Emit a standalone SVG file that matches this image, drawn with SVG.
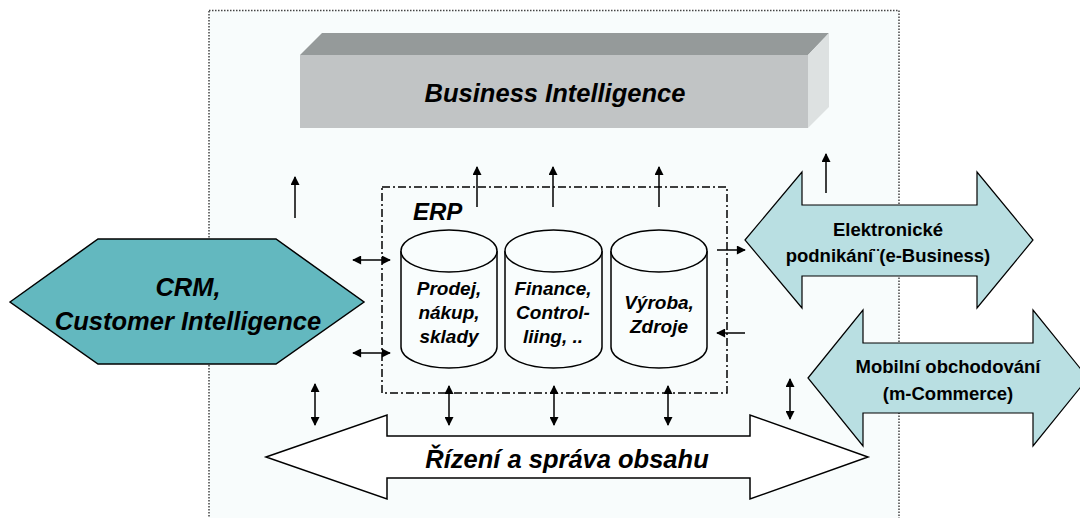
<svg xmlns="http://www.w3.org/2000/svg" width="1080" height="518" viewBox="0 0 1080 518">
<style>
.bi{font-family:"Liberation Sans",Arial,sans-serif;font-weight:bold;font-style:italic;fill:#000}
.b{font-family:"Liberation Sans",Arial,sans-serif;font-weight:bold;fill:#000}
.cyl{fill:#F9FDFD;stroke:#000;stroke-width:1.5}
.con{stroke:#000;stroke-width:1.5;fill:none}
</style>
<defs>
<marker id="ah" viewBox="0 0 10 10" refX="9" refY="5" markerWidth="10" markerHeight="9" markerUnits="userSpaceOnUse" orient="auto-start-reverse">
<path d="M0,0 L10,5 L0,10 Z" fill="#000"/>
</marker>
</defs>
<rect width="1080" height="518" fill="#fff"/>
<g id="frame">
<rect x="209" y="10.5" width="690" height="520" fill="#F8FCFC" stroke="#444" stroke-width="1.5" stroke-dasharray="1.5,1.5"/>
</g>
<g id="bi">
<polygon points="300,55 322,33 829,33 808,55" fill="#959A9A"/>
<polygon points="808,55 829,33 829,107 808,128" fill="#DDE1E1"/>
<rect x="300" y="55" width="508" height="73" fill="#C1C4C5"/>
<text class="bi" x="555" y="102" font-size="25.5" text-anchor="middle">Business Intelligence</text>
</g>
<g id="crm">
<polygon points="10,302 98,239 276,239 364,302 276,364 98,364" fill="#63B8BF" stroke="#000" stroke-width="1.5"/>
<text class="bi" x="188" y="296" font-size="25.5" text-anchor="middle">CRM,</text>
<text class="bi" x="188" y="330" font-size="25.5" text-anchor="middle">Customer Intelligence</text>
</g>
<g id="erp">
<rect x="382" y="187" width="345" height="206" fill="none" stroke="#000" stroke-width="1.5" stroke-dasharray="8,3,2,3"/>
<text class="bi" x="413" y="220" font-size="24">ERP</text>
</g>
<g id="cyl1">
<path class="cyl" d="M401,251 L401,347 A48,21 0 0 0 497,347 L497,251"/>
<ellipse class="cyl" cx="449" cy="251" rx="48" ry="21"/>
<text class="bi" font-size="19" text-anchor="middle"><tspan x="449" y="295">Prodej,</tspan><tspan x="449" y="319">nákup,</tspan><tspan x="449" y="343">sklady</tspan></text>
</g>
<g id="cyl2">
<path class="cyl" d="M505,251 L505,347 A48.5,21 0 0 0 602,347 L602,251"/>
<ellipse class="cyl" cx="553.5" cy="251" rx="48.5" ry="21"/>
<text class="bi" font-size="19" text-anchor="middle"><tspan x="553" y="295">Finance,</tspan><tspan x="553" y="319">Control-</tspan><tspan x="553" y="343">liing, ..</tspan></text>
</g>
<g id="cyl3">
<path class="cyl" d="M611,251 L611,347 A48,21 0 0 0 707,347 L707,251"/>
<ellipse class="cyl" cx="659" cy="251" rx="48" ry="21"/>
<text class="bi" font-size="19" text-anchor="middle"><tspan x="659" y="309">Výroba,</tspan><tspan x="659" y="333">Zdroje</tspan></text>
</g>
<g id="ebusiness">
<polygon points="745,240 802,172 802,205 977,205 977,172 1033,240 977,308 977,276 802,276 802,308" fill="#B9DFE2" stroke="#000" stroke-width="1.2"/>
<text class="b" font-size="18.5" text-anchor="middle"><tspan x="888" y="236">Elektronické</tspan><tspan x="888" y="262">podnikání¨(e-Business)</tspan></text>
</g>
<g id="mcommerce">
<polygon points="808,378 863,310 863,343 1033,343 1033,310 1088,378 1033,446 1033,413 863,413 863,446" fill="#B9DFE2" stroke="#000" stroke-width="1.2"/>
<text class="b" font-size="18.5" text-anchor="middle"><tspan x="948" y="373">Mobilní obchodování</tspan><tspan x="948" y="400">(m-Commerce)</tspan></text>
</g>
<g id="content">
<polygon points="266,457 387,415 387,436 750,436 750,415 868,457 750,499 750,478 387,478 387,499" fill="#fff" stroke="#000" stroke-width="1.5"/>
<text class="bi" x="567" y="468" font-size="25.5" text-anchor="middle">Řízení a správa obsahu</text>
</g>
<g id="connectors" class="con">
<line x1="295" y1="218" x2="295" y2="177" marker-end="url(#ah)"/>
<line x1="477" y1="207" x2="477" y2="167" marker-end="url(#ah)"/>
<line x1="553" y1="207" x2="553" y2="167" marker-end="url(#ah)"/>
<line x1="659" y1="207" x2="659" y2="167" marker-end="url(#ah)"/>
<line x1="826" y1="193" x2="826" y2="154" marker-end="url(#ah)"/>
<line x1="353" y1="260" x2="390" y2="260" marker-start="url(#ah)" marker-end="url(#ah)"/>
<line x1="353" y1="353" x2="390" y2="353" marker-start="url(#ah)" marker-end="url(#ah)"/>
<line x1="717" y1="250" x2="745" y2="250" marker-end="url(#ah)"/>
<line x1="745" y1="333" x2="717" y2="333" marker-end="url(#ah)"/>
<line x1="315" y1="384" x2="315" y2="425" marker-start="url(#ah)" marker-end="url(#ah)"/>
<line x1="449" y1="386" x2="449" y2="425" marker-start="url(#ah)" marker-end="url(#ah)"/>
<line x1="554" y1="386" x2="554" y2="425" marker-start="url(#ah)" marker-end="url(#ah)"/>
<line x1="668" y1="386" x2="668" y2="425" marker-start="url(#ah)" marker-end="url(#ah)"/>
<line x1="790" y1="379" x2="790" y2="419" marker-start="url(#ah)" marker-end="url(#ah)"/>
</g>
</svg>
